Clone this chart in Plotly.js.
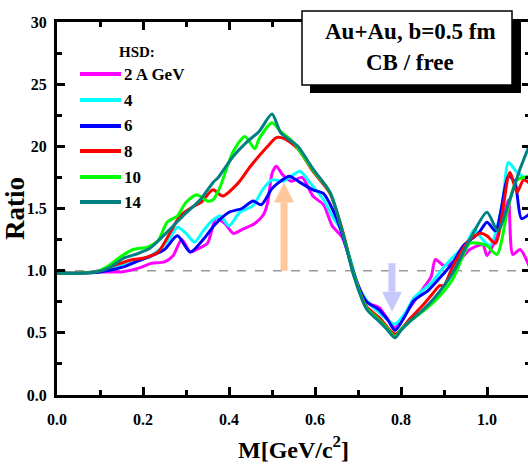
<!DOCTYPE html>
<html>
<head>
<meta charset="utf-8">
<script src="https://cdn.plot.ly/plotly-3.0.1.min.js"></script>
<style>
html,body{margin:0;padding:0;overflow:hidden;background:#fff;}
#chart{width:532px;height:465px;}
</style>
</head>
<body>
<div id="chart"></div>
<script>
// Series names and colours
const seriesNames = ["2 A GeV", "4", "6", "8", "10", "14"];
const seriesColors = ["#ff00ff", "#00ffff", "#0000ff", "#ff0000", "#00ff00", "#008080"];

// 2 A GeV (magenta)
const m2_x = [0, 0.05, 0.1, 0.15, 0.19, 0.22, 0.25, 0.27, 0.29, 0.31, 0.33, 0.35, 0.37, 0.39, 0.41, 0.43, 0.46, 0.48, 0.49, 0.50, 0.51, 0.525, 0.545, 0.57, 0.595, 0.62, 0.64, 0.663, 0.68, 0.69, 0.72, 0.75, 0.765, 0.786, 0.80, 0.82, 0.85, 0.87, 0.88, 0.90, 0.92, 0.94, 0.96, 0.99, 1.0, 1.02, 1.04, 1.05, 1.06, 1.077, 1.1];
const m2_y = [0.98, 0.98, 0.99, 0.99, 1.02, 1.06, 1.07, 1.12, 1.25, 1.15, 1.18, 1.22, 1.42, 1.38, 1.30, 1.33, 1.38, 1.45, 1.55, 1.78, 1.84, 1.77, 1.72, 1.75, 1.60, 1.53, 1.36, 1.27, 1.10, 0.98, 0.75, 0.70, 0.63, 0.54, 0.60, 0.70, 0.85, 0.95, 1.09, 1.04, 1.07, 1.10, 1.17, 1.21, 1.12, 1.25, 1.45, 1.57, 1.13, 1.17, 1.02];

// 4 A GeV (cyan)
const m4_x = [0, 0.05, 0.1, 0.15, 0.2, 0.235, 0.26, 0.28, 0.30, 0.32, 0.34, 0.36, 0.38, 0.40, 0.425, 0.455, 0.48, 0.50, 0.525, 0.545, 0.565, 0.59, 0.62, 0.64, 0.66, 0.68, 0.70, 0.72, 0.75, 0.786, 0.81, 0.83, 0.87, 0.90, 0.93, 0.95, 0.97, 0.99, 1.007, 1.035, 1.05, 1.07, 1.1];
const m4_y = [0.98, 0.98, 1.0, 1.04, 1.09, 1.16, 1.25, 1.35, 1.30, 1.23, 1.32, 1.40, 1.44, 1.36, 1.47, 1.52, 1.66, 1.73, 1.72, 1.76, 1.80, 1.70, 1.57, 1.44, 1.33, 1.12, 0.88, 0.76, 0.66, 0.57, 0.66, 0.78, 0.90, 1.03, 1.14, 1.20, 1.33, 1.25, 1.20, 1.52, 1.87, 1.79, 1.72];

// 6 A GeV (blue)
const m6_x = [0, 0.05, 0.1, 0.155, 0.19, 0.22, 0.25, 0.28, 0.31, 0.34, 0.367, 0.40, 0.43, 0.456, 0.475, 0.50, 0.52, 0.54, 0.565, 0.595, 0.62, 0.64, 0.66, 0.68, 0.70, 0.72, 0.747, 0.77, 0.786, 0.81, 0.83, 0.863, 0.90, 0.92, 0.945, 0.98, 1.0, 1.02, 1.05, 1.065, 1.08, 1.1];
const m6_y = [0.98, 0.98, 0.99, 1.03, 1.08, 1.12, 1.17, 1.28, 1.15, 1.25, 1.37, 1.47, 1.50, 1.56, 1.53, 1.66, 1.72, 1.76, 1.71, 1.65, 1.62, 1.50, 1.33, 1.10, 0.88, 0.75, 0.69, 0.60, 0.52, 0.64, 0.76, 0.84, 0.98, 1.06, 1.20, 1.30, 1.39, 1.32, 1.76, 1.71, 1.42, 1.46];

// 8 A GeV (red)
const m8_x = [0, 0.05, 0.1, 0.14, 0.177, 0.2, 0.235, 0.267, 0.286, 0.314, 0.335, 0.363, 0.385, 0.42, 0.45, 0.49, 0.51, 0.53, 0.56, 0.595, 0.635, 0.665, 0.69, 0.72, 0.75, 0.786, 0.82, 0.85, 0.87, 0.89, 0.90, 0.92, 0.96, 0.985, 1.0, 1.02, 1.053, 1.07, 1.085, 1.1];
const m8_y = [0.98, 0.98, 1.0, 1.05, 1.09, 1.10, 1.15, 1.33, 1.44, 1.51, 1.55, 1.65, 1.60, 1.70, 1.84, 2.00, 2.07, 2.06, 1.98, 1.80, 1.62, 1.31, 0.97, 0.71, 0.62, 0.49, 0.61, 0.72, 0.80, 0.88, 0.88, 1.03, 1.25, 1.30, 1.28, 1.22, 1.79, 1.63, 1.73, 1.70];

// 10 A GeV (green)
const m10_x = [0, 0.05, 0.09, 0.12, 0.147, 0.177, 0.21, 0.235, 0.256, 0.28, 0.30, 0.325, 0.35, 0.363, 0.38, 0.41, 0.437, 0.46, 0.47, 0.50, 0.52, 0.55, 0.595, 0.635, 0.665, 0.69, 0.72, 0.747, 0.767, 0.786, 0.80, 0.82, 0.85, 0.88, 0.92, 0.96, 0.98, 1.0, 1.023, 1.05, 1.07, 1.1];
const m10_y = [0.98, 0.98, 0.99, 1.04, 1.11, 1.17, 1.19, 1.24, 1.39, 1.44, 1.55, 1.61, 1.56, 1.57, 1.68, 1.96, 2.08, 1.98, 2.06, 2.19, 2.12, 2.03, 1.81, 1.63, 1.30, 0.97, 0.70, 0.61, 0.54, 0.47, 0.53, 0.59, 0.67, 0.76, 0.93, 1.22, 1.22, 1.20, 1.13, 1.52, 1.73, 1.76];

// 14 A GeV (teal)
const m14_x = [0, 0.05, 0.09, 0.12, 0.155, 0.19, 0.216, 0.256, 0.293, 0.333, 0.363, 0.375, 0.41, 0.44, 0.47, 0.50, 0.52, 0.537, 0.56, 0.595, 0.635, 0.665, 0.69, 0.72, 0.747, 0.767, 0.786, 0.80, 0.82, 0.85, 0.88, 0.92, 0.96, 1.0, 1.025, 1.053, 1.075, 1.1];
const m14_y = [0.98, 0.98, 0.99, 1.02, 1.10, 1.14, 1.18, 1.31, 1.44, 1.57, 1.71, 1.75, 1.92, 2.03, 2.12, 2.26, 2.11, 2.06, 2.00, 1.82, 1.63, 1.30, 0.96, 0.69, 0.60, 0.53, 0.46, 0.52, 0.59, 0.68, 0.79, 0.98, 1.25, 1.47, 1.32, 1.57, 1.80, 2.02];

// Axis ticks
const yTickVals = [0, 0.5, 1.0, 1.5, 2.0, 2.5, 3.0];
const yTickText = ["0.0", "0.5", "1.0", "1.5", "20", "25", "30"];
const xTickVals = [0, 0.2, 0.4, 0.6, 0.8, 1.0];
const xTickText = ["0.0", "0.2", "0.4", "0.6", "0.8", "1.0"];

// Arrows (data positions)
const upArrow = {x: 0.528, from: 1.0, to: 1.71};
const downArrow = {x: 0.779, from: 1.06, to: 0.67};

const xs = [m2_x, m4_x, m6_x, m8_x, m10_x, m14_x];
const ys = [m2_y, m4_y, m6_y, m8_y, m10_y, m14_y];

const traces = xs.map((x, i) => ({
  x: x, y: ys[i], type: "scatter", mode: "lines", name: seriesNames[i],
  line: {color: seriesColors[i], width: 3, shape: "spline", smoothing: 0.7},
  showlegend: false, hoverinfo: "skip"
}));

const serif = "Liberation Serif";
const W = 532, H = 465, ml = 57, mr = 2, mt = 22, mb = 70;
const pw = W - ml - mr, ph = H - mt - mb;
const px = v => (v - ml) / pw;          // page px -> paper x
const py = v => (H - mb - v) / ph;      // page px -> paper y
const xUnit = 1.1 / pw, yUnit = 3.0 / ph; // data units per pixel

function arrowShapes(a, color) {
  const dir = a.to > a.from ? 1 : -1;
  const headLen = 20 * yUnit, headHalf = 10 * xUnit;
  const base = a.to - dir * headLen;
  return [
    {type: "line", xref: "x", yref: "y", x0: a.x, x1: a.x, y0: a.from, y1: base,
     line: {color: color, width: 7}},
    {type: "path", xref: "x", yref: "y",
     path: `M ${a.x - headHalf} ${base} L ${a.x + headHalf} ${base} L ${a.x} ${a.to} Z`,
     fillcolor: color, line: {width: 0}}
  ];
}

const shapes = [
  {type: "line", xref: "paper", yref: "y", x0: 0, x1: 1, y0: 1, y1: 1,
   line: {color: "#999999", width: 1.5, dash: "dash"}, layer: "below"},
  ...arrowShapes(upArrow, "#ffc89a"),
  ...arrowShapes(downArrow, "#c8c8fa"),
  // shadow of label box
  {type: "rect", xref: "paper", yref: "paper", x0: px(310), x1: px(521), y0: py(93), y1: py(19),
   fillcolor: "#000", line: {width: 0}},
  {type: "rect", xref: "paper", yref: "paper", x0: px(302), x1: px(512), y0: py(85), y1: py(11),
   fillcolor: "#fff", line: {color: "#000", width: 1.5}}
];

const annotations = [
  {xref: "paper", yref: "paper", x: px(410), y: py(31), text: "Au+Au, b=0.5 fm", showarrow: false,
   font: {family: serif, size: 23, color: "#000", weight: "bold"}, xanchor: "center", yanchor: "middle"},
  {xref: "paper", yref: "paper", x: px(410), y: py(63), text: "CB / free", showarrow: false,
   font: {family: serif, size: 23, color: "#000", weight: "bold"}, xanchor: "center", yanchor: "middle"},
  {xref: "paper", yref: "paper", x: px(117), y: py(52), text: "HSD:", showarrow: false,
   font: {family: serif, size: 15, color: "#000", weight: "bold"}, xanchor: "left", yanchor: "middle"}
];

const legY = [74, 100, 126, 151, 177, 202];
seriesNames.forEach((n, i) => {
  shapes.push({type: "line", xref: "paper", yref: "paper", x0: px(80), x1: px(121), y0: py(legY[i]), y1: py(legY[i]),
    line: {color: seriesColors[i], width: 4}});
  annotations.push({xref: "paper", yref: "paper", x: px(122), y: py(legY[i]), text: n, showarrow: false,
    font: {family: serif, size: 17, color: "#000", weight: "bold"}, xanchor: "left", yanchor: "middle"});
});

const axisCommon = {
  showline: true, linecolor: "#000", linewidth: 3, mirror: "ticks",
  ticks: "inside", ticklen: 8, tickwidth: 3, tickcolor: "#000",
  showgrid: false, zeroline: false,
  tickfont: {family: serif, size: 16, color: "#000", weight: "bold"}
};

const layout = {
  width: W, height: H,
  margin: {l: ml, r: mr, t: mt, b: mb, pad: 0},
  paper_bgcolor: "#fff", plot_bgcolor: "#fff",
  showlegend: false,
  xaxis: Object.assign({}, axisCommon, {
    range: [0, 1.1], tickvals: xTickVals, ticktext: xTickText, ticklabelstandoff: 8,
    minor: {dtick: 0.1, tick0: 0, ticks: "inside", ticklen: 5, tickwidth: 3, tickcolor: "#000"},
    title: {text: "M[GeV/c<sup>2</sup>]", font: {family: serif, size: 24, color: "#000", weight: "bold"}, standoff: 14}
  }),
  yaxis: Object.assign({}, axisCommon, {
    range: [0, 3.0], tickvals: yTickVals, ticktext: yTickText, ticklabelstandoff: 4,
    minor: {dtick: 0.25, tick0: 0, ticks: "inside", ticklen: 5, tickwidth: 3, tickcolor: "#000"},
    title: {text: "Ratio", font: {family: serif, size: 27, color: "#000", weight: "bold"}, standoff: 4}
  }),
  shapes: shapes,
  annotations: annotations
};

Plotly.newPlot("chart", traces, layout, {displayModeBar: false, staticPlot: true});
</script>
</body>
</html>
